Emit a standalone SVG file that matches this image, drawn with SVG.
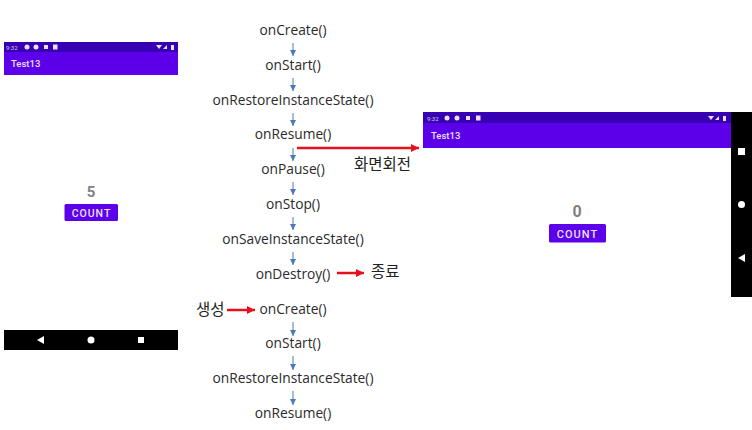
<svg xmlns="http://www.w3.org/2000/svg" width="752" height="430" viewBox="0 0 752 430">
<style>
.m{font:13.75px "Open Sans","Noto Sans",sans-serif;fill:#2a2a2a;text-anchor:middle}
.k{font:15.500px "Noto Sans CJK KR",sans-serif;fill:#222}
.st{font:6px Roboto,sans-serif;fill:#d8c8f0}
.tt{font:500 9.500px Roboto,sans-serif;fill:#ece0ff}
.b{font:500 10.500px Roboto,sans-serif;fill:#ece0ff;letter-spacing:1px;text-anchor:middle}
.n{font:700 15px Roboto,sans-serif;fill:#808080;text-anchor:middle}
.f{stroke:#4a7ab8;stroke-width:1;fill:none;marker-end:url(#ba)}
.r{stroke:#e8101c;stroke-width:2.500;fill:none;marker-end:url(#ra)}
.i{fill:#e8e0f5}
.w{fill:#fff}
</style>
<defs>
<marker id="ba" markerUnits="userSpaceOnUse" markerWidth="7" markerHeight="6" refX="6" refY="3" orient="auto"><path d="M0 0L6 3L0 6Z" fill="#4a7ab8"/></marker>
<marker id="ra" markerUnits="userSpaceOnUse" markerWidth="9" markerHeight="9" refX="8" refY="4.500" orient="auto"><path d="M0 0.500L8 4.500L0 8.500Z" fill="#e8101c"/></marker>
</defs>
<rect width="752" height="430" fill="#fff"/>
<g id="phone-portrait">
<rect x="4" y="42" width="174" height="10" fill="#3700b3"/>
<rect x="4" y="52" width="174" height="23" fill="#5c00ea"/>
<text class="st" x="6" y="49.500">9:32</text>
<circle class="i" cx="27" cy="47" r="2.500"/><circle class="i" cx="36" cy="47" r="2.500"/><rect class="i" x="44" y="45" width="4" height="4"/><rect class="i" x="53" y="44.500" width="4.500" height="5"/>
<path class="i" d="M156 45h6l-3 4zM167 45v4h-4zM171 45h3v5h-3z"/>
<text class="tt" x="11" y="67">Test13</text>
<text class="n" x="91" y="197">5</text>
<rect x="64.500" y="204" width="53.500" height="17" rx="1.500" fill="#5c00ea"/>
<text class="b" x="91.500" y="217">COUNT</text>
<rect x="4" y="330" width="174" height="20" fill="#000"/>
<path class="w" d="M37 340l7-4v8z"/><circle class="w" cx="91" cy="340" r="3.500"/><rect class="w" x="138" y="337" width="6" height="6"/>
</g>
<g id="phone-landscape">
<rect x="423" y="112" width="309" height="11" fill="#3700b3"/>
<rect x="423" y="123" width="309" height="25" fill="#5c00ea"/>
<text class="st" x="427" y="120.500">9:32</text>
<circle class="i" cx="447" cy="118" r="2.500"/><circle class="i" cx="457" cy="118" r="2.500"/><rect class="i" x="466" y="116" width="4" height="4"/><rect class="i" x="476" y="115.500" width="4.500" height="5"/>
<path class="i" d="M708 116h6l-3 4zM719 116v4h-4zM723 116h3v5h-3z"/>
<text class="tt" x="431" y="139">Test13</text>
<rect x="731" y="112" width="21" height="185" fill="#000"/>
<rect class="w" x="738" y="148" width="7" height="7"/><circle class="w" cx="741.500" cy="204.500" r="3.500"/><path class="w" d="M738 258l7-4v8z"/>
<text class="n" x="577" y="217" style="font-size:16px">0</text>
<rect x="549" y="224" width="57" height="18.500" rx="1.500" fill="#5c00ea"/>
<text class="b" x="577.500" y="238" style="font-size:11px">COUNT</text>
</g>
<g id="lifecycle">
<text class="m" x="293" y="35">onCreate()</text>
<text class="m" x="293" y="70">onStart()</text>
<text class="m" x="293" y="105">onRestoreInstanceState()</text>
<text class="m" x="293" y="139">onResume()</text>
<text class="m" x="293" y="174">onPause()</text>
<text class="m" x="293" y="209">onStop()</text>
<text class="m" x="293" y="244">onSaveInstanceState()</text>
<text class="m" x="293" y="279">onDestroy()</text>
<text class="m" x="293" y="314">onCreate()</text>
<text class="m" x="293" y="348">onStart()</text>
<text class="m" x="293" y="383">onRestoreInstanceState()</text>
<text class="m" x="293" y="418">onResume()</text>
</g>
<g id="labels">
<text class="k" x="354" y="170">화면회전</text>
<text class="k" x="371" y="277">종료</text>
<text class="k" x="196" y="315">생성</text>
</g>
<g id="connectors">
<path class="f" d="M293 43V56"/><path class="f" d="M293 78V91"/><path class="f" d="M293 113V126"/><path class="f" d="M293 148V161"/><path class="f" d="M293 182V195"/><path class="f" d="M293 217V230"/><path class="f" d="M293 252V265"/><path class="f" d="M293 322V336"/><path class="f" d="M293 356V370"/><path class="f" d="M293 391V405"/>
<path class="r" d="M297 148H419"/><path class="r" d="M337 273H364"/><path class="r" d="M227 310H255"/>
</g>
</svg>
